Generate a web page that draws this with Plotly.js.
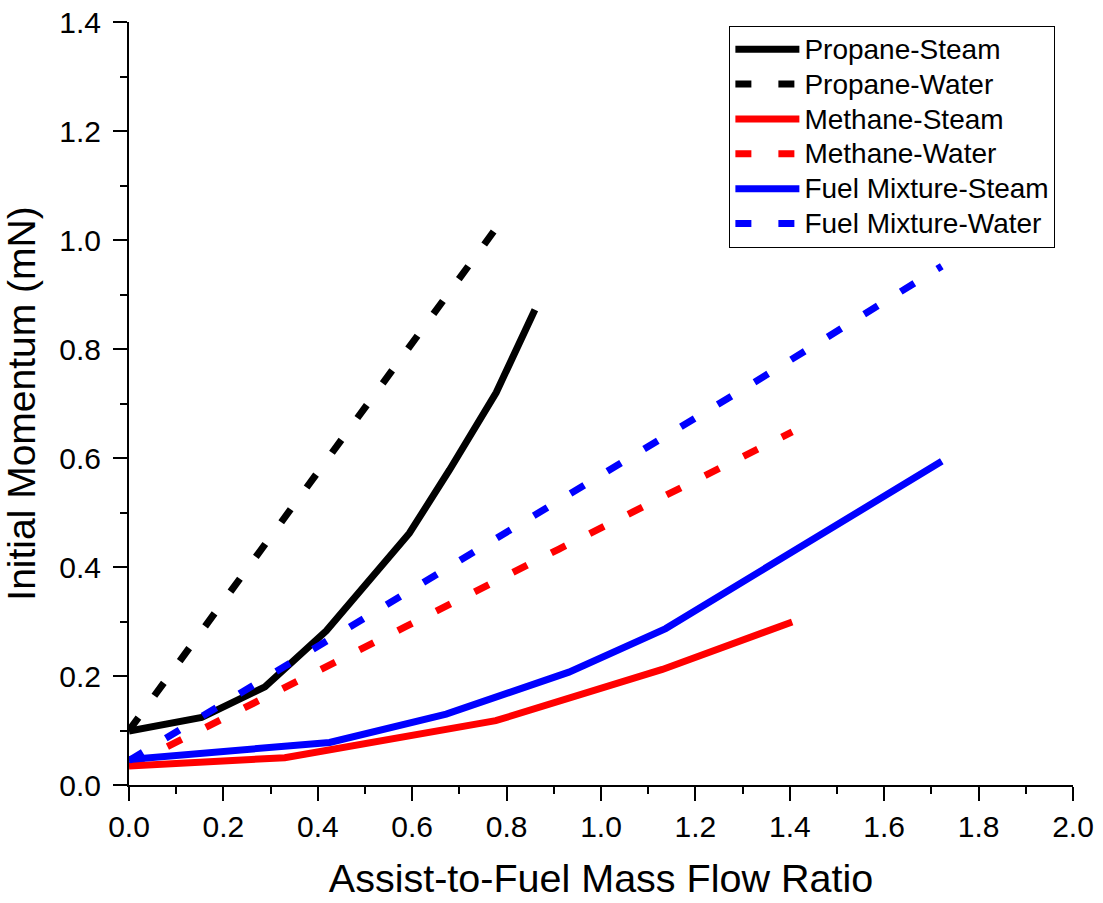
<!DOCTYPE html>
<html>
<head>
<meta charset="utf-8">
<script src="https://cdn.plot.ly/plotly-3.0.1.min.js"></script>
<style>
  html, body { margin: 0; padding: 0; background: #fff; }
  #chart { width: 1103px; height: 903px; }
</style>
</head>
<body>
<div id="chart"></div>
<script>
// Initial momentum vs. assist-to-fuel mass flow ratio

const propaneSteamX = [0.0, 0.154, 0.288, 0.418, 0.594, 0.679, 0.778, 0.86];
const propaneSteamY = [0.099, 0.124, 0.18, 0.283, 0.462, 0.578, 0.72, 0.872];

const propaneWaterX = [0.0, 0.224, 0.44, 0.601, 0.778];
const propaneWaterY = [0.10, 0.366, 0.622, 0.815, 1.022];

const methaneSteamX = [0.0, 0.33, 0.777, 1.13, 1.405];
const methaneSteamY = [0.035, 0.05, 0.118, 0.212, 0.299];

const methaneWaterX = [0.0, 0.26, 0.585, 0.911, 1.158, 1.405];
const methaneWaterY = [0.035, 0.147, 0.29, 0.433, 0.54, 0.648];

const mixtureSteamX = [0.0, 0.425, 0.672, 0.932, 1.137, 1.722];
const mixtureSteamY = [0.047, 0.078, 0.13, 0.207, 0.287, 0.594];

const mixtureWaterX = [0.0, 0.404, 0.952, 1.344, 1.722];
const mixtureWaterY = [0.045, 0.256, 0.544, 0.749, 0.952];

const seriesNames = [
  'Propane-Steam', 'Propane-Water',
  'Methane-Steam', 'Methane-Water',
  'Fuel Mixture-Steam', 'Fuel Mixture-Water'
];

const FONT = 'Liberation Sans, Arial, sans-serif';
const DASH = '16px,27px';
const LW = 7;

// legend rows are spaced by the base legend font; names are drawn a bit larger
function legendLabel(name) {
  return '<span style="font-size:28px">' + name + '</span>';
}

function series(name, x, y, color, dashed) {
  return {
    type: 'scatter', mode: 'lines', name: legendLabel(name), x: x, y: y,
    line: { color: color, width: LW, dash: dashed ? DASH : 'solid' },
    hoverinfo: 'x+y'
  };
}

const data = [
  series(seriesNames[0], propaneSteamX, propaneSteamY, '#000000', false),
  series(seriesNames[1], propaneWaterX, propaneWaterY, '#000000', true),
  series(seriesNames[2], methaneSteamX, methaneSteamY, '#ff0000', false),
  series(seriesNames[3], methaneWaterX, methaneWaterY, '#ff0000', true),
  series(seriesNames[4], mixtureSteamX, mixtureSteamY, '#0000ff', false),
  series(seriesNames[5], mixtureWaterX, mixtureWaterY, '#0000ff', true)
];

const axisCommon = {
  showgrid: false, zeroline: false,
  showline: true, linecolor: '#000', linewidth: 2,
  ticks: 'outside', ticklen: 14, tickwidth: 2, tickcolor: '#000',
  tickformat: '.1f',
  tickfont: { family: FONT, size: 30, color: '#000' },
  minor: { ticks: 'outside', ticklen: 7, tickwidth: 2, tickcolor: '#000', showgrid: false }
};

const layout = {
  width: 1103, height: 903,
  paper_bgcolor: '#fff', plot_bgcolor: '#fff',
  margin: { l: 129, r: 30, t: 22, b: 118 },
  font: { family: FONT, color: '#000' },
  xaxis: Object.assign({}, axisCommon, {
    range: [0, 2.0], dtick: 0.2, tick0: 0,
    minor: Object.assign({}, axisCommon.minor, { dtick: 0.1 }),
    title: { text: 'Assist-to-Fuel Mass Flow Ratio', font: { family: FONT, size: 39.5, color: '#000' }, standoff: 22 }
  }),
  yaxis: Object.assign({}, axisCommon, {
    range: [0, 1.4], dtick: 0.2, tick0: 0,
    ticklabelstandoff: 6,
    minor: Object.assign({}, axisCommon.minor, { dtick: 0.1 }),
    title: { text: 'Initial Momentum (mN)', font: { family: FONT, size: 39, color: '#000' }, standoff: 15 }
  }),
  legend: {
    x: 0.636, y: 0.995, xanchor: 'left', yanchor: 'top',
    bgcolor: '#fff', bordercolor: '#000', borderwidth: 1,
    font: { family: FONT, size: 24.5, color: '#000' },
    itemwidth: 64, tracegroupgap: 0
  },
  showlegend: true
};

Plotly.newPlot('chart', data, layout, { displayModeBar: false, staticPlot: true });
</script>
</body>
</html>
